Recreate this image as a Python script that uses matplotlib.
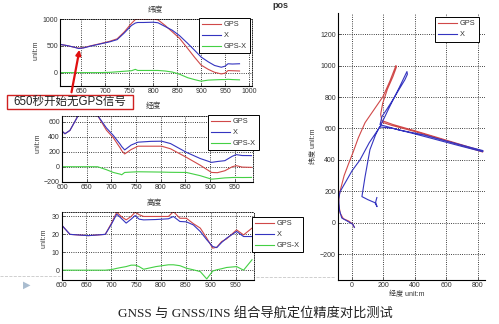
import matplotlib
matplotlib.use("Agg")
import matplotlib.pyplot as plt
from matplotlib.lines import Line2D
from matplotlib.patches import Rectangle, FancyArrowPatch

plt.rcParams['font.family'] = ['Liberation Sans', 'Noto Sans CJK SC', 'DejaVu Sans']

W, H = 499, 324

# 纬度 (latitude) vs time
t_lat = [607, 620, 635, 645, 655, 670, 690, 710, 725, 740, 755, 763, 768, 780, 800, 810, 825, 840,
         855, 872, 886, 900, 915, 928, 942, 950, 956, 965, 980]
gps_lat = [525, 505, 475, 455, 465, 500, 540, 585, 630, 760, 920, 990, 1000, 1000, 1000, 985, 880, 760,
           640, 450, 290, 140, 60, 6, -25, -10, 38, 35, 30]
x_lat = [525, 505, 475, 450, 460, 495, 535, 575, 615, 740, 880, 925, 935, 935, 940, 930, 860, 790,
         690, 545, 420, 290, 200, 133, 100, 120, 165, 160, 165]
d_lat = [0, 0, 0, 0, 0, 0, 0, 5, 15, 25, 35, 60, 40, 40, 40, 40, 30, 10,
         -30, -95, -130, -160, -140, -135, -130, -130, -125, -130, -135]

# 经度 (longitude) vs time
t_lon = [600, 606, 616, 633, 650, 672, 690, 704, 718, 721, 727, 740, 754, 780, 802, 820, 852, 880,
         903, 915, 930, 945, 953, 965, 984]
x_lon = [477, 442, 486, 689, 900, 689, 520, 419, 300, 270, 225, 290, 329, 340, 342, 310, 193, 110,
         58, 70, 81, 140, 162, 150, 149]
gps_lon = [477, 442, 486, 689, 900, 689, 490, 388, 250, 215, 171, 230, 275, 275, 275, 240, 126, 20,
           -77, -80, -54, 0, 14, -5, -9]
d_lon = [0, 0, 0, 0, 0, 0, -40, -77, -100, -108, -77, -72, -68, -70, -72, -75, -77, -120,
         -167, -160, -150, -145, -144, -145, -144]

# 高度 (altitude) vs time
t_alt = [600, 617, 654, 688, 700, 711, 720, 730, 740, 748, 756, 765, 790, 815, 825, 838, 851, 865,
         879, 892, 904, 912, 922, 932, 952, 966, 983]
gps_alt = [25.3, 20, 19.3, 20, 26, 32.4, 30, 28.1, 30, 32.4, 31, 30, 30, 30, 32.7, 29, 29, 26,
           23.5, 17.9, 12.3, 12.8, 16, 17.5, 22.5, 19.7, 23.5]
x_alt = [25.3, 20, 19.3, 20, 25.5, 31.3, 29, 26.3, 28.5, 30.5, 28.5, 28.1, 28.3, 28.7, 30, 27.2, 27, 25.3,
         21.6, 17, 13.2, 12.6, 15.5, 17.9, 21.6, 18.8, 18.8]
d_alt = [0, 0, 0, 0, 0.3, 1, 1.5, 2, 2.8, 2.8, 2, 0.5, 2, 3, 3, 2.5, 1.1, 0.2,
         -0.8, -4.9, -0.5, 0.2, 0.8, 1.5, 2, 0, 5.8]

# pos: east / north tracks
gps_e = [15, 5, -20, -55, -75, -85, -82, -76, -50, -20, 6, 40, 83, 140, 197, 240, 279, 282, 260, 225,
         195, 182, 190, 260, 400, 550, 700, 832, 830, 700, 550, 400, 250, 190]
gps_n = [-30, -10, 10, 25, 60, 120, 170, 200, 300, 380, 446, 540, 637, 720, 803, 900, 1000, 990, 930, 850,
         760, 690, 650, 625, 585, 540, 495, 455, 450, 490, 535, 580, 620, 640]
x_e = [15, 5, -30, -65, -80, -85, -76, -40, 0, 51, 110, 178, 240, 300, 349, 352, 336, 300, 260, 220,
       190, 178, 300, 451, 600, 750, 832, 830, 700, 550, 400, 260, 175, 150, 114, 83, 63, 102, 146, 159,
       150, 158]
x_n = [-30, -10, 10, 30, 80, 150, 197, 260, 330, 400, 510, 611, 740, 860, 962, 945, 910, 850, 783, 720,
       675, 624, 590, 560, 520, 480, 459, 452, 485, 525, 565, 600, 610, 560, 465, 293, 166, 146, 127, 102,
       130, 160]

RED = '#d04848'
BLUE = '#3434c0'
GREEN = '#44d044'
TXT = '#333333'


def fbox(l, t, r, b):
    # pixel box (from top-left) -> figure fraction rect
    return [l / W, 1 - b / H, (r - l) / W, (b - t) / H]


def style(ax):
    ax.grid(True, linestyle=':', color='black', linewidth=0.6)
    ax.tick_params(direction='in', labelsize=5, length=2, width=0.5, colors=TXT, pad=1.5)
    for s in ['left', 'bottom']:
        ax.spines[s].set_linewidth(0.8)
    for s in ['top', 'right']:
        ax.spines[s].set_linestyle(':')
        ax.spines[s].set_linewidth(0.6)


def legend(ax, l, t, labels):
    lg = ax.legend(labels, loc='upper left', bbox_to_anchor=(l / W, 1 - t / H), bbox_transform=fig.transFigure,
                   fontsize=5.3, frameon=True, fancybox=False, framealpha=1, borderaxespad=0,
                   edgecolor='black', handlelength=2.5, labelspacing=0.5, borderpad=0.45, handletextpad=0.45)
    lg.get_frame().set_linewidth(0.7)
    for txt in lg.get_texts():
        txt.set_color(TXT)


fig = plt.figure(figsize=(W / 100, H / 100), dpi=100)

# panel 1: 纬度
ax1 = fig.add_axes(fbox(60, 19, 252, 86))
ax1.plot(t_lat, gps_lat, color=RED, lw=0.8)
ax1.plot(t_lat, x_lat, color=BLUE, lw=0.8)
ax1.plot(t_lat, d_lat, color=GREEN, lw=0.8)
ax1.set_xlim(606, 1006)
ax1.set_ylim(-250, 1000)
ax1.set_xticks(range(650, 1001, 50))
ax1.set_yticks([0, 500, 1000])
style(ax1)
legend(ax1, 199, 18, ['GPS', 'X', 'GPS-X'])
fig.text(155 / W, 1 - 10 / H, '纬度', fontsize=5.5, ha='center', va='center', color=TXT)
fig.text(36 / W, 1 - 50 / H, 'unit:m', fontsize=5, rotation=90, ha='center', va='center', color=TXT)

# panel 2: 经度
ax2 = fig.add_axes(fbox(62, 116, 253, 182))
ax2.plot(t_lon, gps_lon, color=RED, lw=0.8)
ax2.plot(t_lon, x_lon, color=BLUE, lw=0.8)
ax2.plot(t_lon, d_lon, color=GREEN, lw=0.8)
ax2.set_xlim(600, 987)
ax2.set_ylim(-205, 680)
ax2.set_xticks(range(600, 951, 50))
ax2.set_yticks([-200, 0, 200, 400, 600])
style(ax2)
legend(ax2, 208, 115, ['GPS', 'X', 'GPS-X'])
fig.text(153 / W, 1 - 106 / H, '经度', fontsize=5.5, ha='center', va='center', color=TXT)
fig.text(38 / W, 1 - 143 / H, 'unit:m', fontsize=5, rotation=90, ha='center', va='center', color=TXT)

# panel 3: 高度
ax3 = fig.add_axes(fbox(61.5, 212, 254, 280))
ax3.plot(t_alt, gps_alt, color=RED, lw=0.8)
ax3.plot(t_alt, x_alt, color=BLUE, lw=0.8)
ax3.plot(t_alt, d_alt, color=GREEN, lw=0.8)
ax3.set_xlim(600, 987)
ax3.set_ylim(-5.5, 32.5)
ax3.set_xticks(range(600, 951, 50))
ax3.set_yticks([0, 10, 20, 30])
style(ax3)
legend(ax3, 252, 217, ['GPS', 'X', 'GPS-X'])
fig.text(154 / W, 1 - 203 / H, '高度', fontsize=5.5, ha='center', va='center', color=TXT)
fig.text(44 / W, 1 - 238 / H, 'unit:m', fontsize=5, rotation=90, ha='center', va='center', color=TXT)

# panel 4: pos
ax4 = fig.add_axes(fbox(338, 13, 485, 280))
ax4.plot(gps_e, gps_n, color=RED, lw=0.8)
ax4.plot(x_e, x_n, color=BLUE, lw=0.8)
ax4.set_xlim(-89, 845)
ax4.set_ylim(-365, 1335)
ax4.set_xticks(range(0, 801, 200))
ax4.set_yticks(range(-200, 1201, 200))
style(ax4)
ax4.spines['top'].set_visible(False)
ax4.spines['right'].set_visible(False)
legend(ax4, 435, 17, ['GPS', 'X'])
fig.text(280 / W, 1 - 5 / H, 'pos', fontsize=6.5, fontweight='bold', ha='center', va='center', color=TXT)
fig.text(313 / W, 1 - 146 / H, '纬度 unit:m', fontsize=5, rotation=90, ha='center', va='center', color=TXT)
fig.text(407 / W, 1 - 295 / H, '经度 unit:m', fontsize=5, ha='center', va='center', color=TXT)

# annotation box + arrow
fig.add_artist(Rectangle((7 / W, 1 - 109 / H), 126 / W, 14 / H, transform=fig.transFigure,
                         facecolor='white', edgecolor='#d02020', linewidth=1.0))
fig.text(70 / W, 1 - 102 / H, '650秒开始无GPS信号', fontsize=8.3, ha='center', va='center', color='#222222')
fig.add_artist(FancyArrowPatch((71 / W, 1 - 95 / H), (80 / W, 1 - 47 / H), transform=fig.transFigure,
                               arrowstyle='-|>', mutation_scale=7, color='#e01010', linewidth=1.6))

# slide decorations
fig.add_artist(Line2D([0, 60 / W], [1 - 276 / H] * 2, transform=fig.transFigure,
                      color='#c8c8c8', linestyle='--', linewidth=0.6))
fig.add_artist(Line2D([256 / W, 335 / W], [1 - 277 / H] * 2, transform=fig.transFigure,
                      color='#c8c8c8', linestyle='--', linewidth=0.6))
fig.text(27 / W, 1 - 285 / H, '▶', fontsize=7, color='#a9bccf', ha='center', va='center', family='DejaVu Sans')

# caption
fig.text(255 / W, 1 - 313 / H, 'GNSS 与 GNSS/INS 组合导航定位精度对比测试', fontsize=9.5, ha='center',
         va='center', color='#222222', family=['Liberation Serif', 'Noto Sans CJK SC'])

fig.savefig('out.png', dpi=100)
